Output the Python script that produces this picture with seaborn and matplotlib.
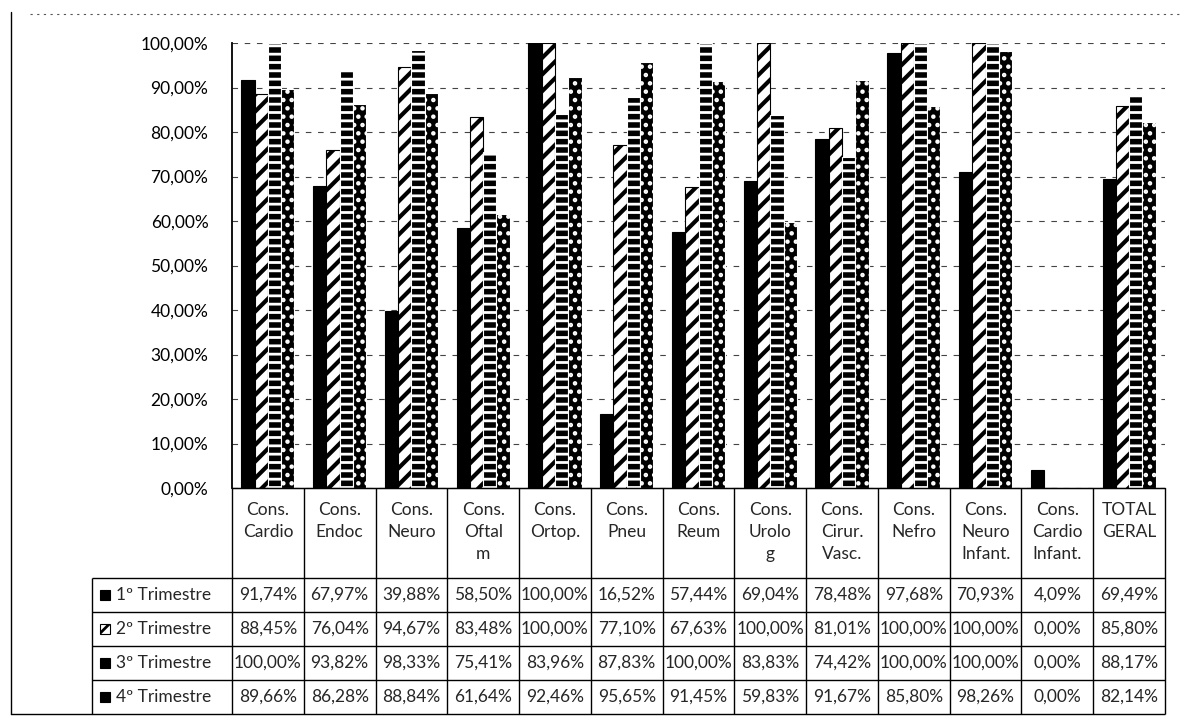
import numpy as np
import pandas as pd
import matplotlib
matplotlib.use("Agg")
import matplotlib.pyplot as plt
from matplotlib.patches import Rectangle
from matplotlib.ticker import FuncFormatter
import seaborn as sns

categorias = ["Cons.\nCardio", "Cons.\nEndoc", "Cons.\nNeuro", "Cons.\nOftal\nm", "Cons.\nOrtop.",
              "Cons.\nPneu", "Cons.\nReum", "Cons.\nUrolo\ng", "Cons.\nCirur.\nVasc.", "Cons.\nNefro",
              "Cons.\nNeuro\nInfant.", "Cons.\nCardio\nInfant.", "TOTAL\nGERAL"]
trimestres = ["1º Trimestre", "2º Trimestre", "3º Trimestre", "4º Trimestre"]
tri_1 = [91.74, 67.97, 39.88, 58.50, 100.00, 16.52, 57.44, 69.04, 78.48, 97.68, 70.93, 4.09, 69.49]
tri_2 = [88.45, 76.04, 94.67, 83.48, 100.00, 77.10, 67.63, 100.00, 81.01, 100.00, 100.00, 0.00, 85.80]
tri_3 = [100.00, 93.82, 98.33, 75.41, 83.96, 87.83, 100.00, 83.83, 74.42, 100.00, 100.00, 0.00, 88.17]
tri_4 = [89.66, 86.28, 88.84, 61.64, 92.46, 95.65, 91.45, 59.83, 91.67, 85.80, 98.26, 0.00, 82.14]
series = [tri_1, tri_2, tri_3, tri_4]


def pct(v, pos=None):
    return f"{v:.2f}%".replace(".", ",")


sns.set_style("white")
plt.rcParams['font.family'] = ['Lato', 'DejaVu Sans']
plt.rcParams['hatch.linewidth'] = 2.0

df = pd.DataFrame({"cat": categorias * 4,
                   "tri": np.repeat(trimestres, len(categorias)),
                   "val": tri_1 + tri_2 + tri_3 + tri_4})

W, H = 1191, 724
fig = plt.figure(figsize=(W / 100, H / 100), dpi=100)
ax = fig.add_axes([232 / W, 1 - 488 / H, (1165 - 232) / W, (488 - 43) / H])

sns.barplot(data=df, x="cat", y="val", hue="tri", order=categorias, hue_order=trimestres,
            palette=["black"] * 4, saturation=1, width=0.74, gap=0, errorbar=None,
            legend=False, ax=ax)

# padrões (preto, listras diagonais, listras horizontais, pontos)
estilos = [("black", "black", "", 2.0), ("white", "black", "//", 3.0),
           ("black", "white", "--", 2.0), ("black", "white", "..", 2.0)]
for cont, (fc, ec, h, hl) in zip(ax.containers, estilos):
    for p in cont:
        p.set_facecolor(fc)
        p.set_edgecolor(ec)
        p.set_hatch(h)
        p.set_linewidth(0.8)
        if hasattr(p, "set_hatch_linewidth"):
            p.set_hatch_linewidth(hl)

ax.set_xlim(-0.5, len(categorias) - 0.5)
ax.set_ylim(0, 100)
ax.set_yticks(range(0, 101, 10))
ax.yaxis.set_major_formatter(FuncFormatter(pct))
ax.set_xticklabels([])
ax.set_xlabel("")
ax.set_ylabel("")
ax.tick_params(axis="x", length=0)
ax.tick_params(axis="y", length=3, direction="out", pad=14, labelsize=12.5, colors="black")
ax.yaxis.grid(True, color="#444444", ls=(0, (5, 6)), lw=0.8)
ax.set_axisbelow(True)
for s in ["top", "right"]:
    ax.spines[s].set_visible(False)
ax.spines["left"].set_color("black")
ax.spines["left"].set_linewidth(1.3)
ax.spines["bottom"].set_color("black")

# tabela de dados embaixo
tab = fig.add_axes([0, 0, 1, 1], facecolor="none")
tab.set_xlim(0, W)
tab.set_ylim(H, 0)
tab.axis("off")

n = len(categorias)
xs = [ax.transData.transform((i - 0.5, 0))[0] for i in range(n + 1)]
topo = 488
linhas = [578, 612, 646, 680, 714]

tab.hlines(topo, xs[0], xs[-1], color="black", lw=1)
tab.hlines(linhas, 92, xs[-1], color="black", lw=1)
tab.vlines(xs, topo, linhas[-1], color="black", lw=1)
tab.vlines(92, linhas[0], linhas[-1], color="black", lw=1)

for i, c in enumerate(categorias):
    tab.text((xs[i] + xs[i + 1]) / 2, 502, c, ha="center", va="top",
             fontsize=12.5, linespacing=1.45)

for k, (nome, vals, (fc, ec, h, hl)) in enumerate(zip(trimestres, series, estilos)):
    yc = (linhas[k] + linhas[k + 1]) / 2
    tab.add_patch(Rectangle((100, yc - 5), 10, 10, facecolor=fc, edgecolor="black",
                            hatch=h, lw=0.8))
    tab.text(116, yc, nome, ha="left", va="center", fontsize=12.5)
    for i, v in enumerate(vals):
        tab.text((xs[i] + xs[i + 1]) / 2, yc, pct(v), ha="center", va="center", fontsize=12.5)

# moldura externa
tab.plot([11, 11], [12, linhas[-1]], color="black", lw=1)
tab.plot([11, 92], [linhas[-1], linhas[-1]], color="black", lw=1)
tab.plot([30, 1180], [14, 14], color="#555555", lw=0.8, ls=(0, (2, 4)))

fig.savefig("out.png", dpi=100)
